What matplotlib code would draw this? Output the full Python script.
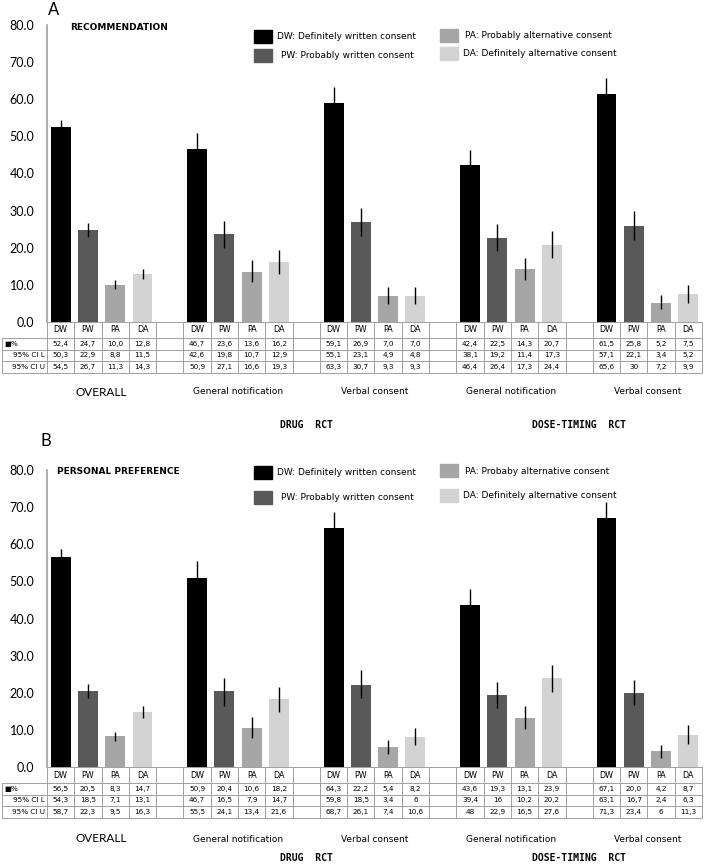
import matplotlib
matplotlib.use('Agg')
import matplotlib.pyplot as plt
import matplotlib.transforms as mtransforms
from matplotlib.patches import Rectangle

W, H = 709, 867

codes = ['DW', 'PW', 'PA', 'DA']
colors = ['#000000', '#595959', '#a6a6a6', '#d3d3d3']
groups = ['OVERALL', 'General notification', 'Verbal consent',
          'General notification', 'Verbal consent']
trials = ['DRUG  RCT', 'DOSE-TIMING  RCT']

# panel A - recommendation (per group: DW, PW, PA, DA)
rec_pct = [[52.4, 24.7, 10.0, 12.8], [46.7, 23.6, 13.6, 16.2], [59.1, 26.9, 7.0, 7.0],
           [42.4, 22.5, 14.3, 20.7], [61.5, 25.8, 5.2, 7.5]]
rec_cil = [[50.3, 22.9, 8.8, 11.5], [42.6, 19.8, 10.7, 12.9], [55.1, 23.1, 4.9, 4.8],
           [38.1, 19.2, 11.4, 17.3], [57.1, 22.1, 3.4, 5.2]]
rec_ciu = [[54.5, 26.7, 11.3, 14.3], [50.9, 27.1, 16.6, 19.3], [63.3, 30.7, 9.3, 9.3],
           [46.4, 26.4, 17.3, 24.4], [65.6, 30, 7.2, 9.9]]
rec_legend = ['DW: Definitely written consent', 'PW: Probably written consent',
              'PA: Probably alternative consent', 'DA: Definitely alternative consent']

# panel B - personal preference
pref_pct = [[56.5, 20.5, 8.3, 14.7], [50.9, 20.4, 10.6, 18.2], [64.3, 22.2, 5.4, 8.2],
            [43.6, 19.3, 13.1, 23.9], [67.1, 20.0, 4.2, 8.7]]
pref_cil = [[54.3, 18.5, 7.1, 13.1], [46.7, 16.5, 7.9, 14.7], [59.8, 18.5, 3.4, 6],
            [39.4, 16, 10.2, 20.2], [63.1, 16.7, 2.4, 6.3]]
pref_ciu = [[58.7, 22.3, 9.5, 16.3], [55.5, 24.1, 13.4, 21.6], [68.7, 26.1, 7.4, 10.6],
            [48, 22.9, 16.5, 27.6], [71.3, 23.4, 6, 11.3]]
pref_legend = ['DW: Definitely written consent', 'PW: Probably written consent',
               'PA: Probaby alternative consent', 'DA: Definitely alternative consent']

fig = plt.figure(figsize=(W / 100, H / 100), dpi=100)

AX_L, AX_R = 47, 702
SLOT = (AX_R - AX_L) / 24.0
GRID = '#a0a0a0'


def fx(px):
    return px / W


def fy(py):
    return 1 - py / H


def fmt_pct(v):
    return f'{v:.1f}'.replace('.', ',')


def fmt_ci(v):
    return f'{v:g}'.replace('.', ',')


def draw_panel(zero_px, top_px, letter, letter_xy, title, title_xy,
               pct, cil, ciu, legend, leg_y, label_y, trial_y):
    ax = fig.add_axes([fx(AX_L), fy(zero_px), fx(AX_R) - fx(AX_L), (zero_px - top_px) / H])
    for g in range(5):
        xs = [g * 5 + k for k in range(4)]
        lo = [p - l for p, l in zip(pct[g], cil[g])]
        hi = [u - p for p, u in zip(pct[g], ciu[g])]
        ax.bar(xs, pct[g], width=0.73, color=colors, yerr=[lo, hi],
               error_kw=dict(ecolor='black', elinewidth=1.0, capsize=0))
    ax.set_xlim(-0.5, 23.5)
    ax.set_ylim(0, 80)
    ax.set_yticks(range(0, 81, 10))
    ax.set_yticklabels([f'{v:.1f}' for v in range(0, 81, 10)], fontfamily='Lato', fontsize=9)
    ax.set_xticks([])
    ax.tick_params(axis='y', length=0, pad=9)
    for s in ['top', 'right', 'bottom']:
        ax.spines[s].set_visible(False)
    ax.spines['left'].set_color(GRID)
    ax.spines['left'].set_linewidth(1.2)

    # table under the bars
    tr = mtransforms.blended_transform_factory(ax.transData, fig.transFigure)
    rows = [zero_px, zero_px + 16, zero_px + 27.5, zero_px + 39, zero_px + 50.5]
    xlab = -0.5 - (AX_L - 2) / SLOT
    kw = dict(transform=tr, clip_on=False, color=GRID, lw=0.7)
    ax.plot([-0.5, 23.5], [fy(rows[0])] * 2, **kw)
    for r in rows[1:]:
        ax.plot([xlab, 23.5], [fy(r)] * 2, **kw)
    for i in range(25):
        ax.plot([i - 0.5] * 2, [fy(rows[0]), fy(rows[-1])], **kw)
    ax.plot([xlab] * 2, [fy(rows[1]), fy(rows[-1])], **kw)

    mids = [(rows[i] + rows[i + 1]) / 2 for i in range(4)]
    tkw = dict(transform=tr, ha='center', va='center', fontsize=5.2, clip_on=False)
    for g in range(5):
        for k in range(4):
            x = g * 5 + k
            ax.text(x, fy(mids[0]), codes[k], fontsize=5.8, transform=tr, ha='center',
                    va='center')
            ax.text(x, fy(mids[1]), fmt_pct(pct[g][k]), **tkw)
            ax.text(x, fy(mids[2]), fmt_ci(cil[g][k]), **tkw)
            ax.text(x, fy(mids[3]), fmt_ci(ciu[g][k]), **tkw)
    ax.text(xlab + 0.08, fy(mids[1]), '\u25a0%', transform=tr, ha='left', va='center',
            fontsize=5.2)
    ax.text(-0.57, fy(mids[2]), '95% CI L', transform=tr, ha='right', va='center', fontsize=5.2)
    ax.text(-0.57, fy(mids[3]), '95% CI U', transform=tr, ha='right', va='center', fontsize=5.2)

    # group and trial labels
    for g, name in enumerate(groups):
        if g == 0:
            ax.text(g * 5 + 1.5, fy(label_y), name, transform=tr, ha='center', va='center',
                    fontfamily='Lato', fontsize=8.5)
        else:
            ax.text(g * 5 + 1.5, fy(label_y), name, transform=tr, ha='center', va='center',
                    fontsize=6.5)
    ax.text(9, fy(trial_y), trials[0], transform=tr, ha='center', va='center',
            fontfamily='DejaVu Sans Mono', fontweight='bold', fontsize=7)
    ax.text(19, fy(trial_y), trials[1], transform=tr, ha='center', va='center',
            fontfamily='DejaVu Sans Mono', fontweight='bold', fontsize=7)

    # panel letter and title
    fig.text(fx(letter_xy[0]), fy(letter_xy[1]), letter, fontfamily='Lato', fontsize=12,
             ha='left', va='center')
    fig.text(fx(title_xy[0]), fy(title_xy[1]), title, fontweight='bold', fontsize=6.5,
             ha='left', va='center')

    # legend boxes
    spots = [(254, 277, leg_y[0]), (254, 281, leg_y[1]), (440, 465, leg_y[0] - 1),
             (440, 463, leg_y[1] - 2)]
    for (bx, tx, cy), c, lab in zip(spots, colors, legend):
        fig.add_artist(Rectangle((fx(bx), fy(cy + 6.5)), 18 / W, 13 / H, color=c,
                                 transform=fig.transFigure))
        fig.text(fx(tx), fy(cy), lab, fontsize=6.5, ha='left', va='center')
    return ax


draw_panel(322, 25, 'A', (48, 10), 'RECOMMENDATION', (70, 28),
           rec_pct, rec_cil, rec_ciu, rec_legend, (36.5, 55.5), 392, 425)
draw_panel(767, 470, 'B', (40, 441), 'PERSONAL PREFERENCE', (57, 471),
           pref_pct, pref_cil, pref_ciu, pref_legend, (472, 497), 839, 858)

fig.savefig('out.png', dpi=100)
